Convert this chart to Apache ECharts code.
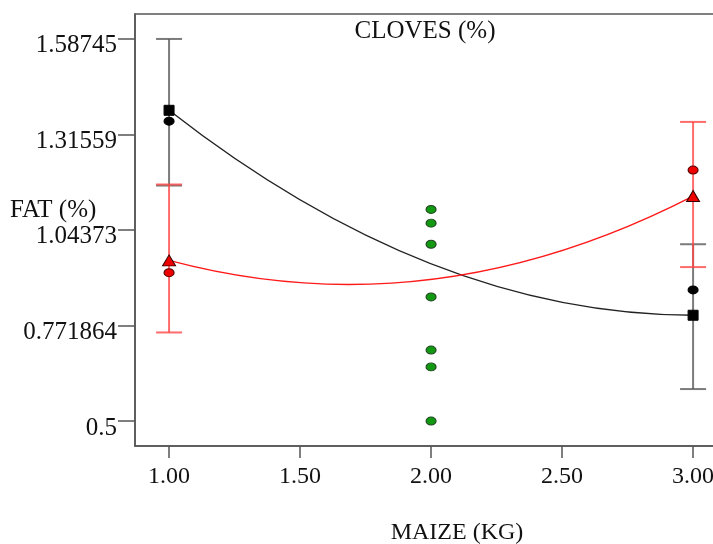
<!DOCTYPE html>
<html>
<head>
<meta charset="utf-8">
<script src="https://cdn.jsdelivr.net/npm/echarts@6/dist/echarts.min.js"></script>
<style>
  html, body { margin: 0; padding: 0; background: #fff; }
  #chart { width: 713px; height: 544px; }
</style>
</head>
<body>
<div id="chart"></div>
<script>
// Axis ticks
const xTicks = [1, 1.5, 2, 2.5, 3];
const yTickLabels = ['0.5', '0.771864', '1.04373', '1.31559', '1.58745'];

// Groups drawn at the two ends of the maize axis
const sideX = [1, 3];
const blackMeans = [1.384, 0.801];
const blackObs = [1.353, 0.873];
const blackLow = [1.170, 0.591];
const blackHigh = [1.587, 1.003];
const redMeans = [0.957, 1.140];
const redObs = [0.922, 1.214];
const redLow = [0.752, 0.938];
const redHigh = [1.173, 1.351];

// Quadratic fit values at 1, 2 and 3 kg
const fitX = [1, 2, 3];
const blackFit = [1.384, 0.947, 0.801];
const redFit = [0.957, 0.903, 1.140];

// Observations at 2 kg
const midX = 2;
const greenObs = [1.102, 1.063, 1.003, 0.853, 0.702, 0.654, 0.500];

const FONT = 'Liberation Serif';
const yTickValues = yTickLabels.map(Number);

function pairs(xs, ys) { return ys.map((y, i) => [xs[i], y]); }

function errorBars(color, low, high) {
  return {
    type: 'custom',
    clip: false,
    data: sideX.map((x, i) => [x, low[i], high[i]]),
    renderItem: function (params, api) {
      const lo = api.coord([api.value(0), api.value(1)]);
      const hi = api.coord([api.value(0), api.value(2)]);
      const half = 13;
      const style = { stroke: color, lineWidth: 2 };
      return {
        type: 'group',
        children: [
          { type: 'line', shape: { x1: lo[0], y1: lo[1], x2: hi[0], y2: hi[1] }, style: style },
          { type: 'line', shape: { x1: lo[0] - half, y1: lo[1], x2: lo[0] + half, y2: lo[1] }, style: style },
          { type: 'line', shape: { x1: hi[0] - half, y1: hi[1], x2: hi[0] + half, y2: hi[1] }, style: style }
        ]
      };
    }
  };
}

// A parabola over [1, 3] is exactly a quadratic Bezier whose control point
// sits at x = 2 with y = (4*f(2) - f(1) - f(3)) / 2.
function fitCurve(color, fit) {
  return {
    type: 'custom',
    clip: false,
    data: [[fitX[0], fit[0]]],
    renderItem: function (params, api) {
      const p0 = api.coord([fitX[0], fit[0]]);
      const p2 = api.coord([fitX[2], fit[2]]);
      const cp = api.coord([fitX[1], (4 * fit[1] - fit[0] - fit[2]) / 2]);
      return {
        type: 'bezierCurve',
        shape: { x1: p0[0], y1: p0[1], x2: p2[0], y2: p2[1], cpx1: cp[0], cpy1: cp[1] },
        style: { stroke: color, lineWidth: 1.4, fill: null }
      };
    }
  };
}

function markers(data, symbol, size, fill, border) {
  return {
    type: 'scatter',
    data: data,
    symbol: symbol,
    symbolSize: size,
    itemStyle: { color: fill, borderColor: border, borderWidth: 1, opacity: 1 },
    emphasis: { disabled: true },
    z: 5
  };
}

const chart = echarts.init(document.getElementById('chart'), null, { renderer: 'canvas' });

chart.setOption({
  animation: false,
  backgroundColor: '#ffffff',
  grid: {
    left: 135, top: 14, width: 600, height: 432,
    show: true, borderColor: '#555', borderWidth: 1.5,
    containLabel: false, outerBoundsMode: 'none'
  },
  xAxis: {
    type: 'value',
    min: 0.87, max: 3.16,
    axisLine: { show: true, onZero: false, lineStyle: { color: '#555', width: 1.5 } },
    axisTick: { show: true, customValues: xTicks, length: 12, lineStyle: { color: '#555', width: 1.5 } },
    axisLabel: {
      customValues: xTicks, margin: 19,
      fontFamily: FONT, fontSize: 24, color: '#111',
      formatter: v => Number(v).toFixed(2)
    },
    splitLine: { show: false }
  },
  yAxis: {
    type: 'value',
    min: 0.429, max: 1.658,
    axisLine: { show: true, onZero: false, lineStyle: { color: '#555', width: 1.5 } },
    axisTick: { show: true, customValues: yTickValues, length: 17, lineStyle: { color: '#555', width: 1.5 } },
    axisLabel: {
      customValues: yTickValues, margin: 18,
      fontFamily: FONT, fontSize: 25, color: '#111',
      verticalAlign: 'top', lineHeight: 14,
      formatter: v => {
        const i = yTickValues.findIndex(t => Math.abs(t - v) < 1e-6);
        return i >= 0 ? yTickLabels[i] : '';
      }
    },
    splitLine: { show: false }
  },
  graphic: [
    { type: 'text', x: 425, y: 31, style: { text: 'CLOVES (%)', font: '25px "' + FONT + '"', fill: '#111', textAlign: 'center', textVerticalAlign: 'middle' } },
    { type: 'text', x: 10, y: 210, style: { text: 'FAT (%)', font: '25px "' + FONT + '"', fill: '#111', textAlign: 'left', textVerticalAlign: 'middle' } },
    { type: 'text', x: 457, y: 533, style: { text: 'MAIZE (KG)', font: '24px "' + FONT + '"', fill: '#111', textAlign: 'center', textVerticalAlign: 'middle' } }
  ],
  series: [
    errorBars('rgba(90,90,90,0.8)', blackLow, blackHigh),
    errorBars('rgba(255,70,70,0.8)', redLow, redHigh),
    fitCurve('#222222', blackFit),
    fitCurve('#ff1a1a', redFit),
    markers(pairs(sideX, blackObs), 'circle', [10, 8], '#000000', '#000000'),
    markers(pairs(sideX, blackMeans), 'rect', [10, 10], '#000000', '#000000'),
    markers(pairs(sideX, redObs), 'circle', [10, 8], '#ee0000', '#550000'),
    markers(pairs(sideX, redMeans), 'triangle', [13, 11], '#ee0000', '#330000'),
    markers(greenObs.map(y => [midX, y]), 'circle', [10, 8], '#119911', '#224422')
  ]
});
</script>
</body>
</html>
